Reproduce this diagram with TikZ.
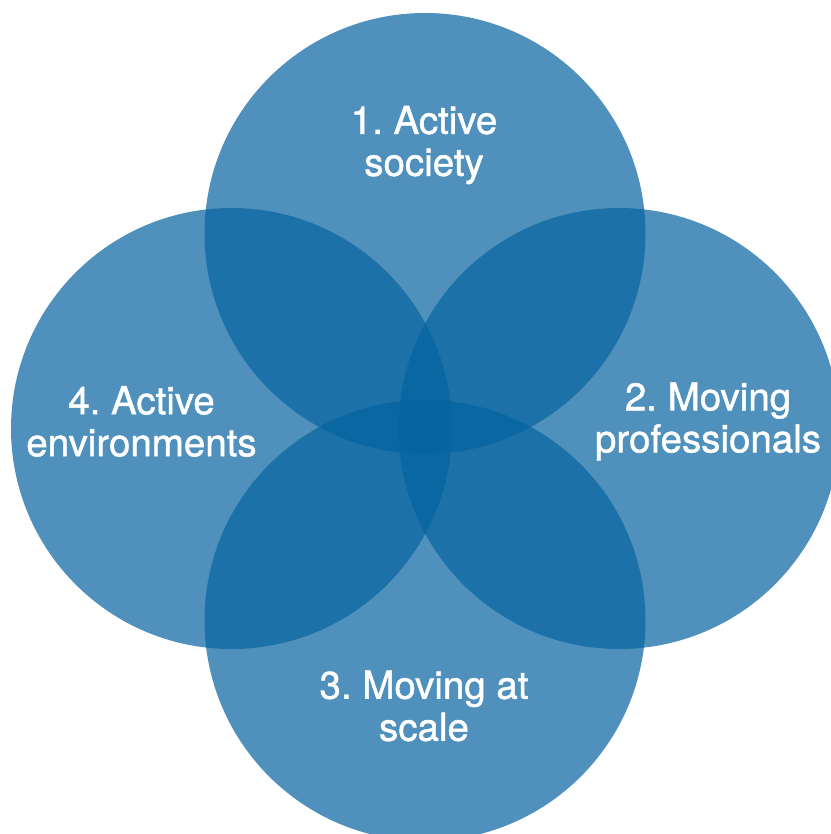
\documentclass[tikz,border=0pt]{standalone}
\usepackage{fontspec}
\setmainfont{TeX Gyre Heros}
\newfontfamily\lblfont{TeX Gyre Heros}[BoldFont=TeX Gyre Heros, BoldFeatures={FakeBold=1.2}]
\frenchspacing
\definecolor{circblue}{RGB}{4,99,159}
\tikzset{
  venn/.style={circle, fill=circblue, fill opacity=0.7, draw=none, minimum size=441pt, inner sep=0pt},
  label/.style={text=white, align=center, font=\lblfont\bfseries\fontsize{38.5}{42}\selectfont, inner sep=0pt, text opacity=1}
}
\begin{document}
\begin{tikzpicture}[x=1pt,y=-1pt]
\useasboundingbox (0,0) rectangle (830,834);
\node[venn] (c1) at (425,233.5) {};
\node[venn] (c2) at (619,428.5) {};
\node[venn] (c3) at (425,620.5) {};
\node[venn] (c4) at (231.5,428.5) {};
\node[label] (t1) at (424,145) {1. Active\\society};
\node[label] (t2) at (708,421.5) {2. Moving\\professionals};
\node[label] (t3) at (424,706) {3. Moving at\\scale};
\node[label] (t4) at (141.5,421.5) {4. Active\\environments};
\end{tikzpicture}
\end{document}
